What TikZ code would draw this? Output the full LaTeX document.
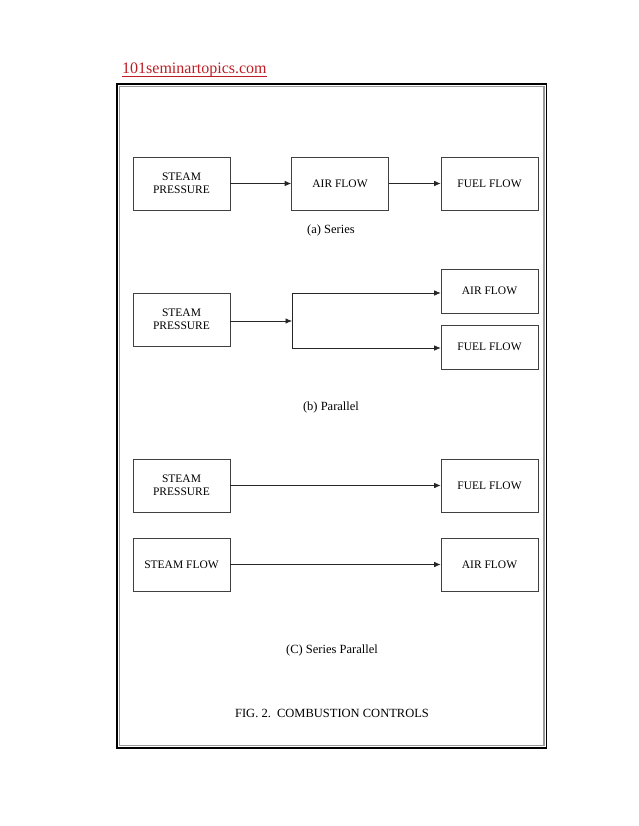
\documentclass[tikz,border=0pt]{standalone}
\usepackage{fontspec}
\setmainfont{Liberation Serif}
\usetikzlibrary{arrows.meta,calc}
\definecolor{sitered}{RGB}{190,30,35}
\tikzset{
  blk/.style={draw=black!75, line width=0.7pt, minimum width=97pt, minimum height=53pt, inner sep=0pt, align=center, font=\fontsize{11.5}{13}\selectfont},
  blks/.style={blk, minimum height=44pt},
  conn/.style={draw=black!85, line width=0.7pt},
  arr/.style={conn, -{Latex[length=6.5pt,width=5.5pt]}},
  captext/.style={font=\fontsize{12.5}{14}\selectfont, inner sep=0pt}
}
\begin{document}
\begin{tikzpicture}[x=1pt,y=-1pt]
\useasboundingbox (0,0) rectangle (638,826);
% title
\node[anchor=base west, inner sep=0pt, text=sitered, font=\fontsize{16}{18}\selectfont] (title) at (122,74) {101seminartopics.com};
\draw[sitered, line width=0.7pt] ([yshift=-2.6pt]title.base west) -- ([yshift=-2.6pt]title.base east);
% frame
\draw[black, line width=1.6pt] (117,84) rectangle (546.5,748);
\draw[black!40, line width=1.6pt] (119.4,86.4) rectangle (544.1,745.6);
% (a) Series
\node[blk] (asp) at (181.5,183.5) {STEAM\\PRESSURE};
\node[blk] (aaf) at (340,183.5) {AIR FLOW};
\node[blk] (aff) at (489.5,183.5) {FUEL FLOW};
\draw[arr] (asp) -- (aaf);
\draw[arr] (aaf) -- (aff);
\node[captext] (capa) at (331,230) {(a) Series};
% (b) Parallel
\node[blk] (bsp) at (181.5,319.5) {STEAM\\PRESSURE};
\node[blks] (baf) at (489.5,291) {AIR FLOW};
\node[blks] (bff) at (489.5,347) {FUEL FLOW};
\coordinate (bj) at (292,321);
\coordinate (bjt) at (292,293);
\coordinate (bjb) at (292,348);
\draw[arr] (bsp.east |- bj) -- (bj);
\draw[conn] (bjt) -- (bjb);
\draw[arr] (bjt) -- (bjt -| baf.west);
\draw[arr] (bjb) -- (bjb -| bff.west);
\node[captext] (capb) at (331,407) {(b) Parallel};
% (C) Series Parallel
\node[blk] (csp) at (181.5,485.5) {STEAM\\PRESSURE};
\node[blk] (cff) at (489.5,485.5) {FUEL FLOW};
\node[blk] (csf) at (181.5,564.5) {STEAM FLOW};
\node[blk] (caf) at (489.5,564.5) {AIR FLOW};
\draw[arr] (csp) -- (cff);
\draw[arr] (csf) -- (caf);
\node[captext] (capc) at (332,650) {(C) Series Parallel};
\node[captext] (fig) at (332,713) {FIG. 2.\ \ COMBUSTION CONTROLS};
\end{tikzpicture}
\end{document}
